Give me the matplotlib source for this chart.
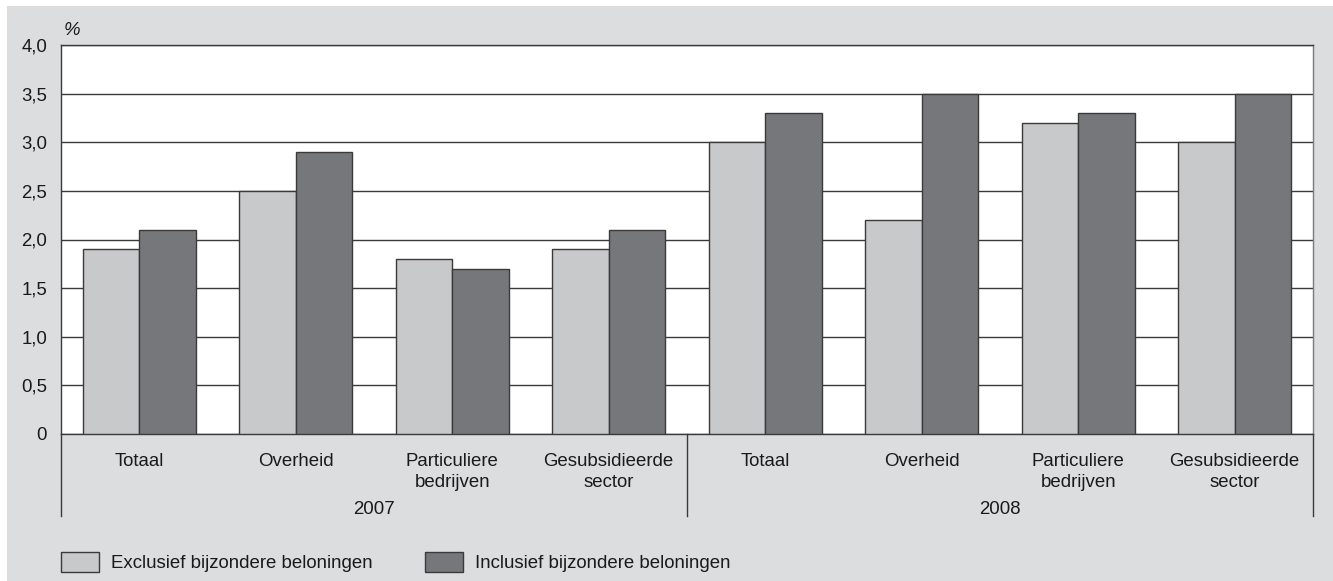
"""Loonontwikkeling 2007-2008, exclusief en inclusief bijzondere beloningen."""
import matplotlib
matplotlib.use("Agg")
import matplotlib.pyplot as plt
import matplotlib.transforms as mtransforms
from matplotlib.patches import Patch, Rectangle
import numpy as np

plt.rcParams["font.family"] = ["Liberation Sans", "DejaVu Sans"]

years = ["2007", "2008"]
sectors = ["Totaal", "Overheid", "Particuliere\nbedrijven", "Gesubsidieerde\nsector"]
exclusief = [1.9, 2.5, 1.8, 1.9, 3.0, 2.2, 3.2, 3.0]
inclusief = [2.1, 2.9, 1.7, 2.1, 3.3, 3.5, 3.3, 3.5]
yticks = [0, 0.5, 1.0, 1.5, 2.0, 2.5, 3.0, 3.5, 4.0]
ytick_labels = ["0", "0,5", "1,0", "1,5", "2,0", "2,5", "3,0", "3,5", "4,0"]
series_labels = ["Exclusief bijzondere beloningen", "Inclusief bijzondere beloningen"]

FONT_SIZE = 13.4

# Colors
col_background = "#dcdddf"
col_light = "#c8c9cb"
col_dark = "#76777b"
col_line = "#3a3a3a"
col_text = "#1a1a1a"

W, H = 1333, 581
fig = plt.figure(figsize=(W / 100, H / 100), dpi=100)
fig.patch.set_facecolor("white")
fig.patches.append(
    Rectangle((7 / W, 0), 1 - 7 / W, (H - 6) / H, transform=fig.transFigure,
              facecolor=col_background, edgecolor="none", zorder=-10)
)

ax = fig.add_axes([61 / W, (H - 434) / H, (1313 - 61) / W, (434 - 45) / H])
ax.set_facecolor("white")

n = len(exclusief)
x = np.arange(n)
bar_w = 0.36
ax.bar(x - bar_w / 2, exclusief, bar_w, color=col_light, edgecolor=col_line,
       linewidth=1.0, zorder=3)
ax.bar(x + bar_w / 2, inclusief, bar_w, color=col_dark, edgecolor=col_line,
       linewidth=1.0, zorder=3)

ax.set_xlim(-0.5, n - 0.5)
ax.set_ylim(0, 4.0)
ax.set_yticks(yticks)
ax.set_yticklabels(ytick_labels)
ax.yaxis.grid(True, color=col_line, linewidth=1.0, zorder=0)
ax.set_axisbelow(True)

ax.set_xticks(x)
ax.set_xticklabels(sectors * len(years), linespacing=1.35)
ax.tick_params(axis="both", length=0, labelsize=FONT_SIZE, colors=col_text)
ax.tick_params(axis="y", pad=10)
ax.tick_params(axis="x", pad=13.5)

for side in ["left", "bottom", "top"]:
    ax.spines[side].set_color(col_line)
    ax.spines[side].set_linewidth(1.0)
ax.spines["right"].set_color("#7a7a7a")
ax.spines["right"].set_linewidth(1.0)

# Year group separators and labels below the axis
trans = mtransforms.blended_transform_factory(ax.transData, ax.transAxes)
sep_bottom = -(516 - 434) / (434 - 45)
group = len(sectors)
for i in range(len(years) + 1):
    xs = i * group - 0.5
    ax.plot([xs, xs], [0, sep_bottom], transform=trans, color=col_line,
            linewidth=1.0, clip_on=False)
for i, year in enumerate(years):
    ax.text(i * group + (group - 1) / 2, -(509 - 434) / (434 - 45), year,
            transform=trans, ha="center", va="center", fontsize=FONT_SIZE, color=col_text)

ax.text(0.002, 1.015, "%", transform=ax.transAxes, ha="left", va="bottom",
        fontsize=FONT_SIZE, fontstyle="italic", color=col_text)

handles = [
    Patch(facecolor=col_light, edgecolor=col_line, linewidth=1.0),
    Patch(facecolor=col_dark, edgecolor=col_line, linewidth=1.0),
]
fig.legend(handles, series_labels, loc="center left",
           bbox_to_anchor=(61 / W, (H - 562) / H), ncol=2, frameon=False,
           fontsize=FONT_SIZE, handlelength=2.05, handleheight=1.3, handletextpad=0.65,
           columnspacing=2.8, borderpad=0, borderaxespad=0, labelcolor=col_text)

fig.savefig("out.png", dpi=100, facecolor=fig.get_facecolor())
